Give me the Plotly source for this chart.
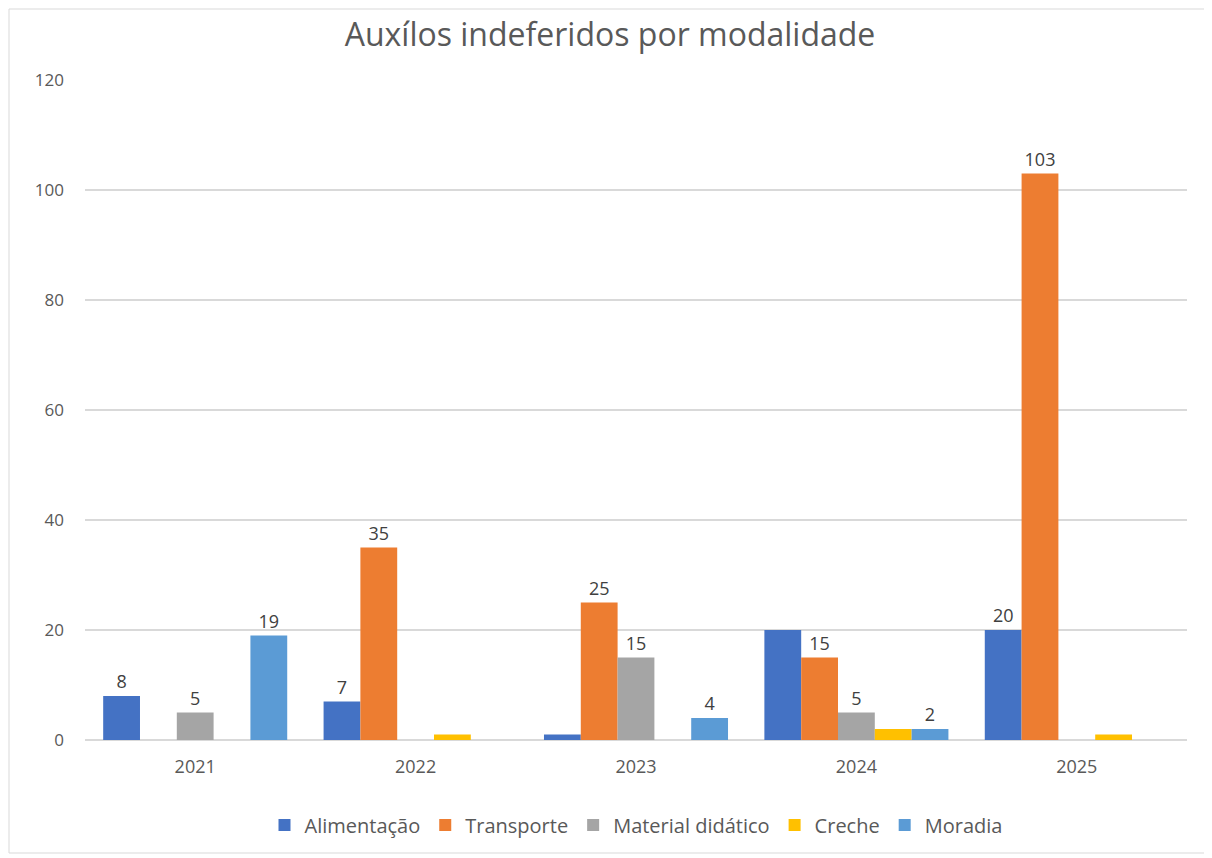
import plotly.graph_objects as go

years = ["2021", "2022", "2023", "2024", "2025"]
series_names = ["Alimentação", "Transporte", "Material didático", "Creche", "Moradia"]
alimentacao = [8, 7, 1, 20, 20]
transporte = [0, 35, 25, 15, 103]
material = [5, 0, 15, 5, 0]
creche = [0, 1, 0, 2, 1]
moradia = [19, 0, 4, 2, 0]
# data labels as shown in the reference (small bars are unlabelled)
lbl_alimentacao = ["8", "7", "", "", "20"]
lbl_transporte = ["", "35", "25", "15", "103"]
lbl_material = ["5", "", "15", "5", ""]
lbl_creche = ["", "", "", "", ""]
lbl_moradia = ["19", "", "4", "2", ""]

colors = ["#4472C4", "#ED7D31", "#A5A5A5", "#FFC000", "#5B9BD5"]
values = [alimentacao, transporte, material, creche, moradia]
labels = [lbl_alimentacao, lbl_transporte, lbl_material, lbl_creche, lbl_moradia]

FONT = "Open Sans"
W, H = 1204, 850
ML, MR, MT, MB = 77, 25, 72, 118
PW, PH = W - ML - MR, H - MT - MB

fig = go.Figure()
for name, vals, lbls, col in zip(series_names, values, labels, colors):
    fig.add_trace(go.Bar(
        name=name, x=years, y=vals, marker=dict(color=col, line=dict(width=0)),
        text=lbls, textposition="outside", cliponaxis=False,
        textfont=dict(family=FONT, size=18, color="#404040"),
    ))

fig.update_layout(
    width=W, height=H,
    barmode="group", bargap=0.165, bargroupgap=0,
    paper_bgcolor="white", plot_bgcolor="white",
    margin=dict(l=ML, r=MR, t=MT, b=MB),
    title=dict(text="Auxílos indeferidos por modalidade", x=0.5, xanchor="center",
               y=1 - 27 / H, yanchor="middle",
               font=dict(family=FONT, size=32, color="#595959")),
    font=dict(family=FONT, color="#595959"),
    legend=dict(orientation="h", x=0.5, xanchor="center", y=-(817 - 732) / PH, yanchor="middle",
                font=dict(family=FONT, size=20, color="#595959"), itemwidth=30,
                traceorder="normal"),
    yaxis=dict(range=[0, 120], dtick=20, showgrid=True, gridcolor="#D9D9D9", gridwidth=1.5,
               zeroline=True, zerolinecolor="#D9D9D9", zerolinewidth=1.5,
               tickfont=dict(family=FONT, size=17, color="#595959"),
               ticks="", showline=False, ticklabelstandoff=20),
    xaxis=dict(showline=False, ticks="", ticklabelstandoff=14,
               tickfont=dict(family=FONT, size=18, color="#595959")),
    showlegend=True,
)
fig.add_shape(type="rect", xref="paper", yref="paper",
              x0=(-ML + 1) / PW, x1=(W - ML - 4) / PW,
              y0=-(MB - 5) / PH, y1=(PH + MT - 1) / PH,
              line=dict(color="#D9D9D9", width=1), fillcolor="rgba(0,0,0,0)", layer="below")
fig.write_html("out.html")
